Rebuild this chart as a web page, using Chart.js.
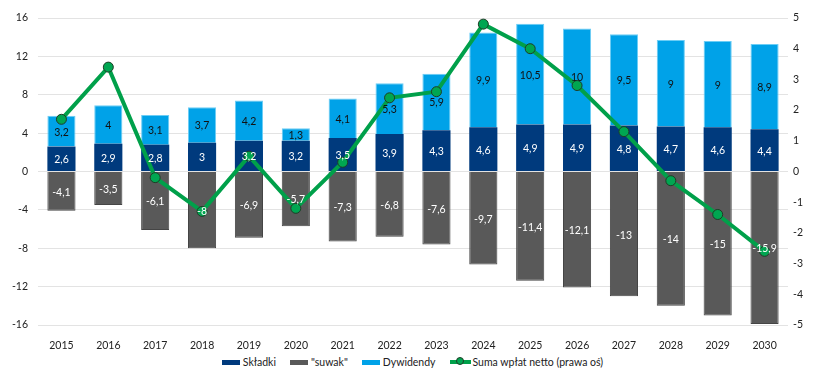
<!DOCTYPE html>
<html>
<head>
<meta charset="utf-8">
<script src="https://cdn.jsdelivr.net/npm/chart.js@4"></script>
<style>
  html,body{margin:0;padding:0;background:#fff;}
  #wrap{width:825px;height:381px;position:relative;font-family:Lato,"Open Sans",sans-serif;}
  #box{width:825px;height:350px;position:relative;}
  .legend{display:flex;justify-content:center;align-items:center;height:24px;font-size:10.5px;color:#222;margin-top:0px;}
  .legend .it{display:flex;align-items:center;margin:0 7px;}
  .legend .sw{width:18px;height:5px;margin-right:3px;}
  .legend .ln{width:21px;height:4px;background:#00a04a;position:relative;margin-right:2px;}
  .legend .ln i{position:absolute;left:6px;top:-3px;width:8px;height:8px;border-radius:50%;background:#00a651;border:1px solid #1e3d26;box-sizing:border-box;}
</style>
</head>
<body>
<div id="wrap">
  <div id="box"><canvas id="c"></canvas></div>
  <div class="legend">
    <div class="it"><span class="sw" style="background:#003a7d"></span>Składki</div>
    <div class="it"><span class="sw" style="background:#595959"></span>"suwak"</div>
    <div class="it"><span class="sw" style="background:#00a2e8"></span>Dywidendy</div>
    <div class="it"><span class="ln"><i></i></span>Suma wpłat netto (prawa oś)</div>
  </div>
</div>
<script>
const years = ['2015','2016','2017','2018','2019','2020','2021','2022','2023','2024','2025','2026','2027','2028','2029','2030'];
const skladki = [2.6,2.9,2.8,3,3.2,3.2,3.5,3.9,4.3,4.6,4.9,4.9,4.8,4.7,4.6,4.4];
const suwak = [-4.1,-3.5,-6.1,-8,-6.9,-5.7,-7.3,-6.8,-7.6,-9.7,-11.4,-12.1,-13,-14,-15,-15.9];
const dywidendy = [3.2,4,3.1,3.7,4.2,1.3,4.1,5.3,5.9,9.9,10.5,10,9.5,9,9,8.9];
const sumaNetto = [1.7,3.4,-0.2,-1.3,0.5,-1.2,0.3,2.4,2.6,4.8,4.0,2.8,1.3,-0.3,-1.4,-2.6];

const leftTicks = [-16,-12,-8,-4,0,4,8,12,16];
const rightTicks = [-5,-4,-3,-2,-1,0,1,2,3,4,5];

const tickFont = {family:'Lato, "Open Sans", sans-serif', size:10.5};

// etykiety wartości na słupkach
const barLabels = {
  id:'barLabels',
  afterDatasetsDraw(chart){
    const ctx = chart.ctx;
    ctx.save();
    ctx.font = '10.5px Lato, "Open Sans", sans-serif';
    ctx.textAlign = 'center';
    ctx.textBaseline = 'middle';
    chart.data.datasets.forEach((ds,i)=>{
      if(ds.type==='line') return;
      const meta = chart.getDatasetMeta(i);
      ctx.fillStyle = ds.labelColor;
      meta.data.forEach((el,j)=>{
        const p = el.getProps(['x','y','base'],true);
        const txt = String(ds.data[j]).replace('.',',');
        ctx.fillText(txt, p.x, (p.y+p.base)/2 + 1);
      });
    });
    ctx.restore();
  }
};

new Chart(document.getElementById('c'),{
  type:'bar',
  data:{
    labels:years,
    datasets:[
      {label:'Suma wpłat netto (prawa oś)', type:'line', data:sumaNetto, yAxisID:'y1', order:0,
       borderColor:'#00a04a', borderWidth:4, tension:0,
       pointRadius:5, pointBackgroundColor:'#00a651', pointBorderColor:'#1e3d26', pointBorderWidth:1},
      {label:'Składki', data:skladki, backgroundColor:'#003a7d', labelColor:'#ffffff', order:1,
       borderColor:'#3d6fb0', borderWidth:0},
      {label:'"suwak"', data:suwak, backgroundColor:'#595959', labelColor:'#ffffff', order:1,
       borderColor:'#454545', borderWidth:1},
      {label:'Dywidendy', data:dywidendy, backgroundColor:'#00a2e8', labelColor:'#111111', order:1,
       borderColor:'#6ccdf5', borderWidth:1}
    ]
  },
  options:{
    responsive:true, maintainAspectRatio:false, animation:false,
    layout:{padding:{top:18,bottom:0,left:0,right:0}},
    datasets:{bar:{categoryPercentage:1, barPercentage:0.6}},
    plugins:{legend:{display:false}, tooltip:{enabled:false}},
    scales:{
      x:{stacked:true, grid:{display:false}, border:{display:false},
         ticks:{color:'#222', font:tickFont, padding:6, maxRotation:0},
         afterFit(s){s.height=25;}},
      y:{stacked:true, position:'left', min:-16, max:16,
         afterBuildTicks(s){s.ticks=leftTicks.map(v=>({value:v}));},
         grid:{color:'#e3e3e3', drawTicks:false}, border:{display:false},
         ticks:{color:'#222', font:tickFont, padding:10},
         afterFit(s){s.width=38;}},
      y1:{position:'right', min:-5, max:5,
         afterBuildTicks(s){s.ticks=rightTicks.map(v=>({value:v}));},
         grid:{display:false, drawTicks:false}, border:{display:false},
         ticks:{color:'#222', font:tickFont, padding:5},
         afterFit(s){s.width=37;}}
    }
  },
  plugins:[barLabels]
});
</script>
</body>
</html>
